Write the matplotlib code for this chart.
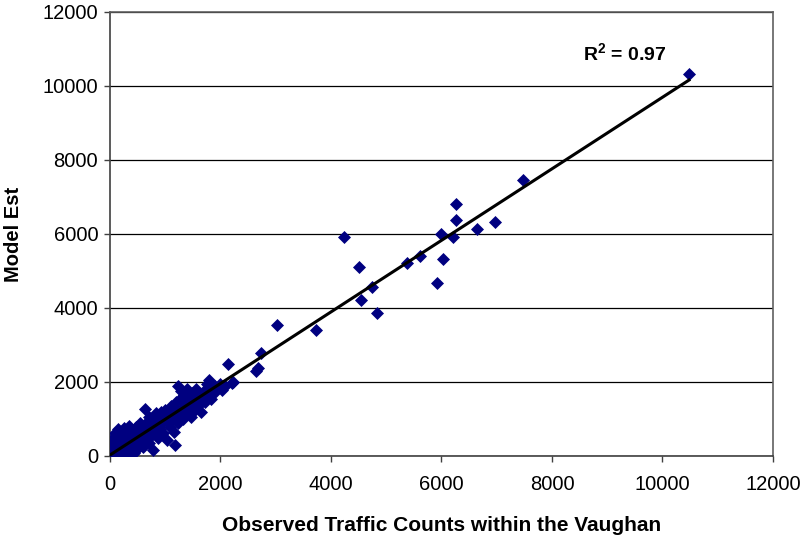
import numpy as np
import matplotlib
matplotlib.use("Agg")
import matplotlib.pyplot as plt

plt.rcParams["font.family"] = ["Liberation Sans", "DejaVu Sans"]
plt.rcParams["mathtext.fontset"] = "custom"
plt.rcParams["mathtext.rm"] = "Liberation Sans:bold"
plt.rcParams["mathtext.default"] = "rm"

# observed counts vs. model estimates (links)
observed = [
    # high-volume links
    10480, 7470, 6960, 6650, 6270, 6270, 6210, 6030, 6000, 5920, 5610, 5370,
    4830, 4750, 4540, 4510, 4240, 3730, 3020, 2740, 2680, 2650, 2140, 2230,
    # 0-200
    20, 40, 50, 60, 80, 90, 100, 110, 120, 130, 140, 150, 160, 170, 180, 190,
    200, 30, 70, 10, 35, 55, 85, 125, 145, 175, 195,
    # 200-500
    210, 220, 240, 250, 260, 270, 280, 290, 300, 310, 320, 330, 340, 350, 360,
    370, 380, 390, 400, 410, 420, 430, 440, 450, 460, 470, 480, 490, 500,
    # 500-900
    510, 520, 540, 560, 580, 600, 620, 630, 640, 650, 660, 680, 700, 710, 720,
    740, 760, 770, 780, 800, 820, 830, 850, 870, 880, 900,
    # 900-1300
    920, 940, 960, 980, 1000, 1030, 1050, 1070, 1090, 1100, 1120, 1140, 1160,
    1180, 1190, 1200, 1220, 1230, 1240, 1260, 1270, 1290, 1300,
    # 1300-1900
    1320, 1340, 1360, 1380, 1400, 1420, 1440, 1460, 1480, 1500, 1520, 1540,
    1560, 1580, 1600, 1620, 1650, 1680, 1700, 1720, 1750, 1780, 1800, 1820,
    1850, 1880, 1900,
    # 1900-2300
    1950, 2000, 2030, 2080, 2200,
]
model_est = [
    10320, 7460, 6330, 6140, 6380, 6800, 5910, 5320, 6000, 4680, 5400, 5210,
    3860, 4580, 4220, 5100, 5920, 3400, 3550, 2790, 2380, 2300, 2490, 2000,
    30, 120, 260, 10, 350, 180, 60, 450, 300, 560, 90, 220, 380, 650, 20, 480,
    150, 400, 520, 200, 0, 80, 610, 30, 740, 290, 330,
    600, 240, 420, 760, 110, 330, 520, 180, 680, 400, 60, 250, 580, 820, 300,
    470, 150, 640, 380, 700, 260, 520, 90, 430, 610, 340, 780, 200, 500,
    650, 320, 880, 450, 700, 250, 560, 1280, 780, 420, 900, 620, 350, 1050, 760,
    540, 880, 150, 690, 980, 620, 1150, 800, 480, 1000, 720,
    1200, 880, 620, 1060, 1250, 430, 950, 1120, 780, 1350, 1000, 1180, 640,
    300, 1450, 1050, 1250, 1900, 880, 1550, 1150, 1750, 1300,
    1000, 1650, 1420, 1200, 1820, 1550, 1300, 1050, 1700, 1450, 1600, 1250,
    1800, 1500, 1350, 1650, 1200, 1550, 1750, 1450, 1950, 1650, 2050, 1550,
    1800, 1700, 1900,
    1850, 1950, 1780, 1900, 1980,
]

# linear trendline as reported with the chart
trend_slope = 0.967
trend_intercept = 25
r_squared_label = "0.97"

x = np.array(observed, dtype=float)
y = np.array(model_est, dtype=float)

fig = plt.figure(figsize=(8.01, 5.40), dpi=100)
ax = fig.add_axes([0.1373, 0.1556, 0.9650 - 0.1373, 0.9778 - 0.1556])

ax.scatter(x, y, marker="D", s=44, color="#000080", linewidths=0, zorder=3)

xs = np.array([0, x.max()])
ax.plot(xs, trend_slope * xs + trend_intercept, color="black", lw=2.2,
        zorder=4)

ax.text(8560, 10880, r"R$^2$ = " + r_squared_label, fontsize=14,
        fontweight="bold", va="center", ha="left")

ax.set_xlim(0, 12000)
ax.set_ylim(0, 12000)
ax.set_xticks(np.arange(0, 12001, 2000))
ax.set_yticks(np.arange(0, 12001, 2000))
ax.yaxis.grid(True, color="black", lw=0.9)
ax.set_axisbelow(True)

for side in ["left", "bottom"]:
    ax.spines[side].set_color("#404040")
    ax.spines[side].set_linewidth(1.2)
for side in ["top", "right"]:
    ax.spines[side].set_color("#606060")
    ax.spines[side].set_linewidth(1.2)

ax.tick_params(axis="both", direction="out", length=4.5, width=1,
               color="#404040", labelsize=14.5)
ax.tick_params(axis="x", pad=9)
ax.tick_params(axis="y", pad=4)

ax.set_xlabel("Observed Traffic Counts within the Vaughan", fontsize=15,
              fontweight="bold", labelpad=16)
ax.set_ylabel("Model Est", fontsize=14.5, fontweight="bold", labelpad=14)

fig.savefig("out.png", dpi=100)
